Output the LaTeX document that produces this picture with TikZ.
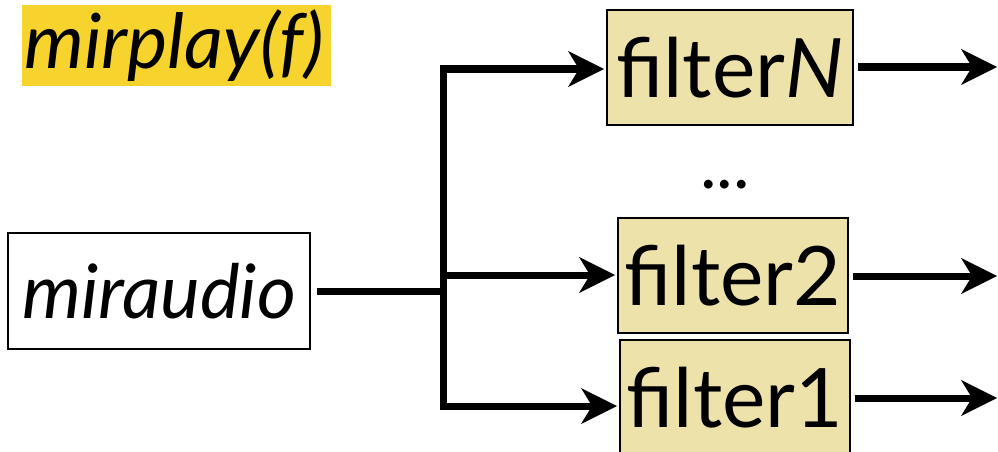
\documentclass[tikz,border=0pt]{standalone}
\usepackage{fontspec}
\setmainfont{Lato}
\usetikzlibrary{arrows.meta}
\definecolor{titleyellow}{RGB}{246,211,45}
\definecolor{filterfill}{RGB}{236,226,170}
\begin{document}
\begin{tikzpicture}[x=1pt,y=-1pt,
  filterbox/.style={draw=black, line width=2pt, fill=filterfill, minimum height=115pt, inner sep=0pt, font=\fontsize{82}{90}\selectfont},
  conn/.style={line width=7pt, line join=miter},
  arr/.style={conn, -{Stealth[length=36pt,width=36pt,inset=11pt,line width=0pt]}}]
\useasboundingbox (0,0) rectangle (998,452);
% title
\node[fill=titleyellow, minimum width=309pt, minimum height=81pt, inner sep=0pt] (titlebg) at (176.5,45.5) {};
\node[anchor=base west, inner sep=0pt, font=\itshape\fontsize{76}{80}\selectfont] (title) at (24,68) {mirplay(f)};
% source
\node[draw=black, line width=1.5pt, minimum width=302pt, minimum height=116pt, inner sep=0pt, font=\itshape\fontsize{75}{80}\selectfont] (ma) at (159,291) {miraudio};
% filters
\node[filterbox, minimum width=246pt] (fN) at (730,67.5) {filter\textit{N}};
\node[filterbox, minimum width=230pt] (f2) at (733,275.5) {filter2};
\node[filterbox, minimum width=230pt] (f1) at (735,397.5) {filter1};
\node[anchor=base, inner sep=0pt, font=\fontsize{70}{80}\selectfont] (dots) at (725,188) {...};
% junctions
\coordinate (jt) at (443,69);
\coordinate (jm) at (443,291);
\coordinate (j2) at (443,275);
\coordinate (jb) at (443,406);
\coordinate (oN) at (997,67);
\coordinate (o2) at (997,276);
\coordinate (o1) at (997,398);
% connectors
\draw[conn, shorten <=6pt] (ma.east) -- (jm);
\draw[arr, shorten >=2pt] (jb) -- (jt) -- (jt -| fN.west);
\draw[arr, shorten >=2pt] (jt) -- (jb) -- (jb -| f1.west);
\draw[arr, shorten >=2pt] (j2) -- (j2 -| f2.west);
\draw[arr, shorten <=4pt] (fN.east |- oN) -- (oN);
\draw[arr, shorten <=4pt] (f2.east |- o2) -- (o2);
\draw[arr, shorten <=4pt] (f1.east |- o1) -- (o1);
\end{tikzpicture}
\end{document}
